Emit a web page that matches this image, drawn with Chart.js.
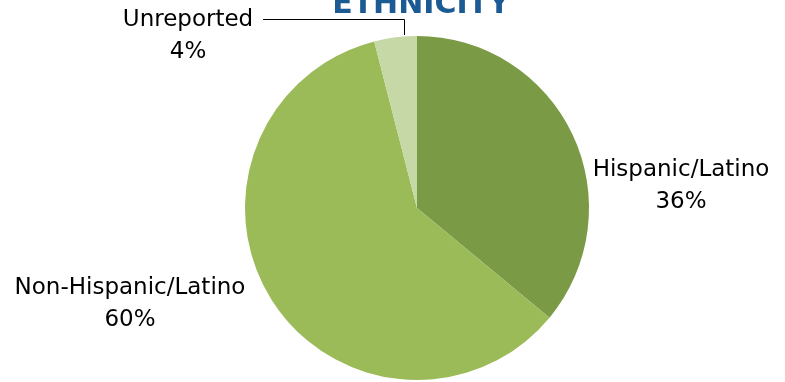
<!DOCTYPE html>
<html>
<head>
<meta charset="utf-8">
<script src="https://cdn.jsdelivr.net/npm/chart.js@4"></script>
<style>
    html, body { margin: 0; padding: 0; background: #ffffff; }
    #wrap { width: 785px; height: 382px; }
</style>
</head>
<body>
<div id="wrap"><canvas id="ethnicity"></canvas></div>
<script>
let categories = ['Hispanic/Latino', 'Non-Hispanic/Latino', 'Unreported'];
let percents = [36, 60, 4];
let sliceColors = ['#7a9a45', '#9bbb59', '#c5d8a5'];
let chartTitle = 'ETHNICITY';

// where each label sits, relative to the pie centre
let labelOffsets = [[264, -22], [-287, 96], [-229, -172]];

const labelsPlugin = {
    id: 'pieLabels',
    afterDraw(chart) {
        let ctx = chart.ctx;
        let arcs = chart.getDatasetMeta(0).data;
        ctx.save();

        // title, cut off at the top like the original
        ctx.fillStyle = '#1c5a94';
        ctx.font = 'bold 30px "DejaVu Sans"';
        ctx.textAlign = 'center';
        ctx.textBaseline = 'alphabetic';
        ctx.fillText(chartTitle, 421, 13);

        ctx.fillStyle = '#000000';
        ctx.font = '23px "DejaVu Sans"';
        ctx.textBaseline = 'middle';
        arcs.forEach((arc, i) => {
            let cx = arc.x + labelOffsets[i][0];
            let cy = arc.y + labelOffsets[i][1];
            ctx.fillText(categories[i], cx, cy - 16);
            ctx.fillText(percents[i] + '%', cx, cy + 16);
        });

        // leader line for the small slice
        let a = arcs[2];
        ctx.strokeStyle = '#000000';
        ctx.lineWidth = 1;
        ctx.beginPath();
        ctx.moveTo(a.x - 154, a.y - 188.5);
        ctx.lineTo(a.x - 12.5, a.y - 188.5);
        ctx.lineTo(a.x - 12.5, a.y - 173);
        ctx.stroke();
        ctx.restore();
    }
};

new Chart(document.getElementById('ethnicity').getContext('2d'), {
    type: 'pie',
    data: {
        labels: categories,
        datasets: [{
            data: percents,
            backgroundColor: sliceColors,
            borderWidth: 0
        }]
    },
    options: {
        responsive: true,
        maintainAspectRatio: false,
        animation: false,
        layout: {
            padding: { top: 36, bottom: 2, left: 245, right: 196 }
        },
        plugins: {
            legend: { display: false },
            tooltip: { enabled: false }
        }
    },
    plugins: [labelsPlugin]
});
</script>
</body>
</html>
